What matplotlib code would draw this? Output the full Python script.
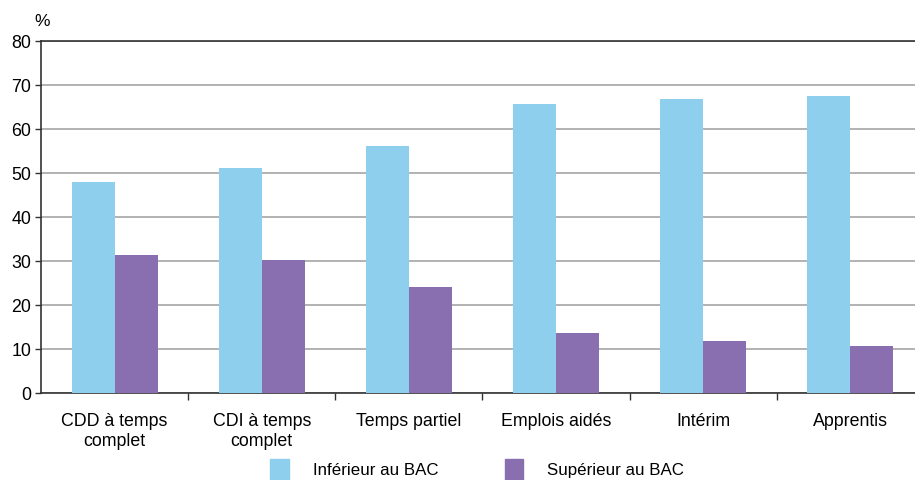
import matplotlib
matplotlib.use("Agg")
import matplotlib.pyplot as plt
import numpy as np
from matplotlib.patches import Patch

plt.rcParams['font.family'] = ['Liberation Sans', 'DejaVu Sans']

categories = ["CDD à temps\ncomplet", "CDI à temps\ncomplet", "Temps partiel",
              "Emplois aidés", "Intérim", "Apprentis"]
inferieur = [48.0, 51.1, 56.1, 65.7, 66.8, 67.5]
superieur = [31.4, 30.2, 24.1, 13.6, 11.8, 10.7]
series_names = ["Inférieur au BAC", "Supérieur au BAC"]

c_light = "#8fcfee"
c_purple = "#8a6fb0"

fig = plt.figure(figsize=(9.15, 4.8), dpi=100)
# the plot area runs a little past the right edge of the image
ax = fig.add_axes([0.0448, 0.181, 0.965, 0.7335])

x = np.arange(len(categories))
w = 0.292
ax.bar(x - w / 2, inferieur, w, color=c_light, zorder=3)
ax.bar(x + w / 2, superieur, w, color=c_purple, zorder=3)

ax.set_xlim(-0.5, len(categories) - 0.5)
ax.set_ylim(0, 80)
ax.set_yticks(range(0, 81, 10))
ax.tick_params(axis='y', labelsize=12.8, length=4, width=1, color='#333333', pad=3)

# category labels sit between the tick marks
ax.set_xticks(np.arange(0.5, len(categories) - 0.5, 1.0))
ax.set_xticks(x, minor=True)
ax.set_xticklabels([])
ax.set_xticklabels(categories, minor=True)
ax.tick_params(axis='x', which='major', length=5, width=1, color='#333333', direction='out')
ax.tick_params(axis='x', which='minor', length=0, labelsize=12.8, pad=14.5)

ax.grid(axis='y', color='#a6a6a6', linewidth=1.2, zorder=0)
for s in ['left', 'bottom', 'top']:
    ax.spines[s].set_color('#333333')
    ax.spines[s].set_linewidth(1.2)
ax.spines['right'].set_visible(False)

fig.text(0.046, 0.955, "%", fontsize=12.5, ha='center', va='center')

handles = [Patch(color=c_light), Patch(color=c_purple)]
fig.legend(handles, series_names, loc='center', bbox_to_anchor=(0.5216, 0.021),
           ncol=2, frameon=False, fontsize=12.2, handlelength=1.1, handleheight=1.6,
           columnspacing=3.9, handletextpad=1.42)

fig.savefig("out.png", dpi=100)
